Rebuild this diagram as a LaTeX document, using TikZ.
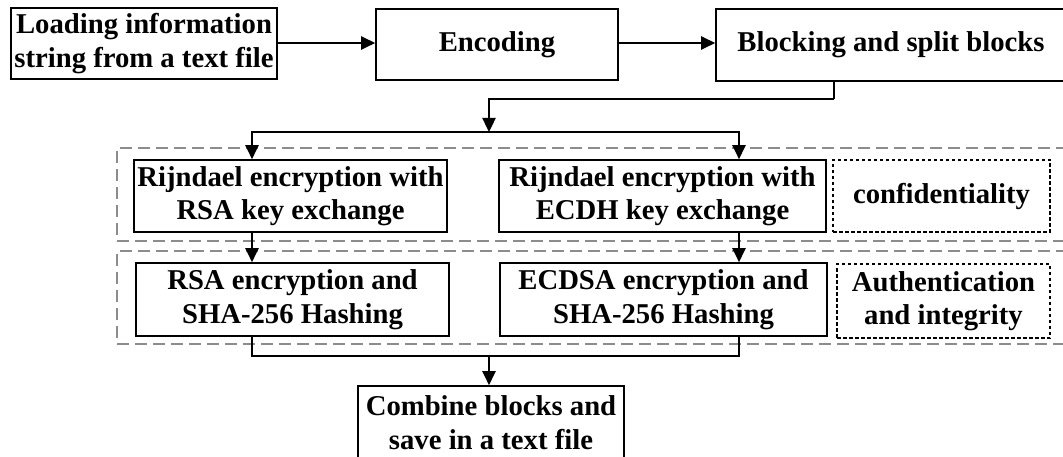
\documentclass[tikz,border=0pt]{standalone}
\usepackage{fontspec}
\setmainfont{Liberation Serif}
\usetikzlibrary{arrows.meta}
\definecolor{grayc}{HTML}{8C8C8C}
\begin{document}
\begin{tikzpicture}[x=1pt,y=-1pt,
  box/.style={draw, line width=1.6pt, rectangle, align=center, inner sep=1pt,
    font=\fontsize{28.7}{33.5}\selectfont\bfseries},
  tagbox/.style={box, line width=1.2pt, dash pattern=on 3.5pt off 2.5pt},
  group/.style={draw=grayc, line width=2.4pt, dash pattern=on 12pt off 6pt, rectangle, inner sep=0pt},
  arr/.style={line width=2.4pt, -{Triangle[length=14pt,width=13pt]}},
  conn/.style={line width=1.8pt}]
\useasboundingbox (0,0) rectangle (1063,457);
\clip (0,0) rectangle (1063,457);
% groups
\node[group, minimum width=951pt, minimum height=93pt] (g1) at (592.5,194.5) {};
\node[group, minimum width=951pt, minimum height=93pt] (g2) at (592.5,297.5) {};
% boxes
\node[box, minimum width=266pt, minimum height=71pt] (load) at (144,43.5) {Loading information\\string from a text file};
\node[box, minimum width=242pt, minimum height=71pt] (enc) at (497,44.5) {Encoding};
\node[box, minimum width=350pt, minimum height=72pt] (blk) at (891,45) {Blocking and split blocks};
\node[box, minimum width=313pt, minimum height=72pt] (rr) at (290.5,196) {Rijndael encryption with\\RSA key exchange};
\node[box, minimum width=327pt, minimum height=72pt] (re) at (662.5,196) {Rijndael encryption with\\ECDH key exchange};
\node[tagbox, minimum width=217pt, minimum height=72pt] (conf) at (941.5,196) {confidentiality};
\node[box, minimum width=313pt, minimum height=73pt] (rsa) at (292.5,299.5) {RSA encryption and\\SHA-256 Hashing};
\node[box, minimum width=327pt, minimum height=73pt] (ecd) at (663.5,299.5) {ECDSA encryption and\\SHA-256 Hashing};
\node[tagbox, minimum width=213pt, minimum height=74pt] (auth) at (943.5,301) {Authentication\\and integrity};
\node[box, minimum width=266pt, minimum height=73pt] (comb) at (491,422.5) {Combine blocks and\\save in a text file};
% coordinates
\coordinate (colL) at (252,0);
\coordinate (colR) at (739,0);
\coordinate (colM) at (489,0);
\coordinate (turn) at (834,99);
\coordinate (split) at (489,132);
\coordinate (join) at (489,356);
% connectors
\draw[arr] (load.east |- 0,43) -- (enc.west |- 0,43);
\draw[arr] (enc.east |- 0,43) -- (blk.west |- 0,43);
\draw[conn] (blk.south -| turn) -- (turn);
\draw[arr] (turn) -| (split);
\draw[arr] (split) -| (rr.north -| colL);
\draw[arr] (split) -| (re.north -| colR);
\draw[arr] (rr.south -| colL) -- (rsa.north -| colL);
\draw[arr] (re.south -| colR) -- (ecd.north -| colR);
\draw[conn] (rsa.south -| colL) |- (join);
\draw[conn] (ecd.south -| colR) |- (join);
\draw[arr] (join) -- (comb.north -| colM);
\end{tikzpicture}
\end{document}
